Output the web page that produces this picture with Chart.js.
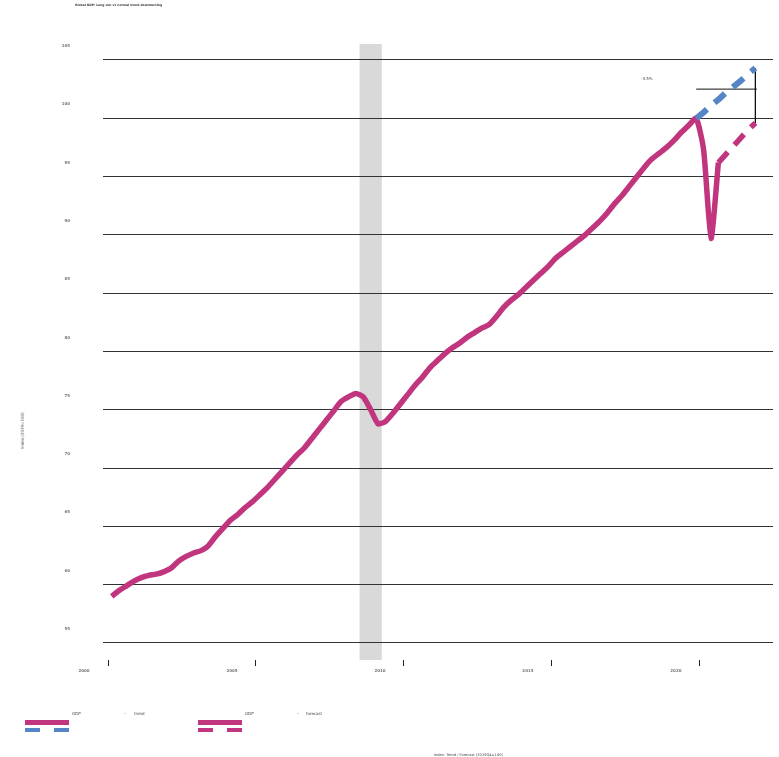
<!DOCTYPE html>
<html>
<head>
<meta charset="utf-8">
<script src="https://cdn.jsdelivr.net/npm/chart.js@4.4.1/dist/chart.umd.min.js"></script>
<style>
  body { margin: 0; background: #fff; }
  #wrap { position: relative; width: 779px; height: 757px; }
  .t { position: absolute; font-family: 'DejaVu Sans', sans-serif; font-size: 4px; color: #444; white-space: nowrap; }
  .sw { position: absolute; }
</style>
</head>
<body>
<div id="wrap">
  <canvas id="chart" width="779" height="757"></canvas>
  <div class="t" style="left:75px;top:3px;font-size:3px;font-weight:bold;color:#333;">Global GDP: Long-run vs normal trend downturning</div>
  <div class="t" style="left:4px;top:428px;transform:rotate(-90deg);transform-origin:center;">Index (2019=100)</div>
  <div class="t" style="left:641px;top:76px;">-4.5%</div>

  <!-- legende -->
  <div class="sw" style="left:25px;top:720px;width:44px;height:5px;background:#C0357E"></div>
  <div class="sw" style="left:25px;top:728px;width:15px;height:4px;background:#5585C5"></div>
  <div class="sw" style="left:54px;top:728px;width:15px;height:4px;background:#5585C5"></div>
  <div class="t" style="left:72px;top:711px;">GDP</div>
  <div class="t" style="left:124px;top:711px;">–</div>
  <div class="t" style="left:134px;top:711px;">trend</div>

  <div class="sw" style="left:198px;top:720px;width:44px;height:5px;background:#C0357E"></div>
  <div class="sw" style="left:198px;top:728px;width:15px;height:4px;background:#C0357E"></div>
  <div class="sw" style="left:227px;top:728px;width:15px;height:4px;background:#C0357E"></div>
  <div class="t" style="left:245px;top:711px;">GDP</div>
  <div class="t" style="left:297px;top:711px;">–</div>
  <div class="t" style="left:306px;top:711px;">forecast</div>

  <div class="t" style="left:434px;top:753px;font-size:3.6px;">Index: Trend / Forecast (2019Q4=100)</div>
</div>

<script>
// --- donnees ---
const quarters = [];
for (let y = 2000; y <= 2021; y++) for (let q = 1; q <= 4; q++) quarters.push(y + 'Q' + q);

// PIB observe, 2000Q1 -> 2020Q3
const gdpActual = [
  59.0, 59.5, 59.9, 60.3,
  60.6, 60.8, 60.9, 61.1,
  61.4, 62.0, 62.4, 62.7,
  62.9, 63.3, 64.1, 64.8,
  65.5, 66.0, 66.6, 67.1,
  67.7, 68.3, 69.0, 69.7,
  70.4, 71.1, 71.7, 72.5,
  73.3, 74.1, 74.9, 75.7,
  76.1, 76.4, 76.1, 75.0,
  73.8, 74.0, 74.7, 75.5,
  76.3, 77.1, 77.8, 78.6,
  79.2, 79.8, 80.3, 80.7,
  81.2, 81.6, 82.0, 82.3,
  83.0, 83.8, 84.4, 84.9,
  85.5, 86.1, 86.7, 87.3,
  88.0, 88.5, 89.0, 89.5,
  90.0, 90.6, 91.2, 91.9,
  92.7, 93.4, 94.2, 95.0,
  95.8, 96.5, 97.0, 97.5,
  98.1, 98.8, 99.4, 100.0,
  97.3, 89.7, 96.2
];
// prevision, 2020Q3 -> 2021Q4
const forecastStart = '2020Q3';
const gdpForecast = [96.2, 96.9, 97.6, 98.3, 99.0, 99.6];
// tendance pre-crise, 2019Q4 -> 2021Q4
const trendStart = '2019Q4';
const gdpTrend = [100.0, 100.5, 101.1, 101.6, 102.2, 102.7, 103.2, 103.8, 104.3];

const recession = [2008.5, 2009.25];
const yTicks = [55, 60, 65, 70, 75, 80, 85, 90, 95, 100, 105];
const xTicks = [2000, 2005, 2010, 2015, 2020];
const gapLevel = 102.5;

// '2008Q2' -> 2008.375
function qToYear(label) {
  const y = parseInt(label.slice(0, 4));
  const q = parseInt(label.slice(5));
  return y + (q - 0.5) / 4;
}
function toPoints(start, values) {
  const i0 = quarters.indexOf(start);
  return values.map((v, i) => ({ x: qToYear(quarters[i0 + i]), y: v }));
}

const pink = '#C0357E';
const blue = '#5585C5';
const lastX = qToYear(quarters[quarters.length - 1]);

// Zone grise de la recession, dessinee sous la grille
const shadePlugin = {
  id: 'shade',
  beforeDraw(chart) {
    const { ctx, chartArea, scales } = chart;
    const x1 = scales.x.getPixelForValue(recession[0]);
    const x2 = scales.x.getPixelForValue(recession[1]);
    ctx.save();
    ctx.fillStyle = '#d9d9d9';
    ctx.fillRect(x1, chartArea.top, x2 - x1, chartArea.bottom - chartArea.top);
    ctx.restore();
  }
};

new Chart(document.getElementById('chart'), {
  type: 'line',
  data: {
    datasets: [
      {
        label: 'trend',
        data: toPoints(trendStart, gdpTrend),
        borderColor: blue, borderWidth: 6, borderDash: [14, 10],
        pointRadius: 0, tension: 0
      },
      {
        label: 'forecast',
        data: toPoints(forecastStart, gdpForecast),
        borderColor: pink, borderWidth: 5.5, borderDash: [14, 10],
        pointRadius: 0, tension: 0
      },
      {
        label: 'GDP',
        data: toPoints('2000Q1', gdpActual),
        borderColor: pink, borderWidth: 5.5,
        pointRadius: 0, tension: 0.2, borderJoinStyle: 'round'
      },
      {
        label: 'gap',
        data: [
          { x: qToYear(trendStart), y: gapLevel },
          { x: lastX + 0.05, y: gapLevel }
        ],
        borderColor: '#111', borderWidth: 1, pointRadius: 0
      },
      {
        label: 'bracket',
        data: [
          { x: lastX, y: gdpTrend[gdpTrend.length - 1] },
          { x: lastX, y: gdpForecast[gdpForecast.length - 1] }
        ],
        borderColor: '#111', borderWidth: 1, pointRadius: 0
      }
    ]
  },
  options: {
    responsive: false,
    devicePixelRatio: 1,
    animation: false,
    layout: { padding: { top: 44, right: 6, bottom: 0, left: 0 } },
    plugins: {
      legend: { display: false },
      title: { display: false },
      tooltip: { enabled: false }
    },
    scales: {
      x: {
        type: 'linear',
        min: 1999.83,
        max: 2022.47,
        afterFit(scale) { scale.height = 97; },
        afterBuildTicks(scale) { scale.ticks = xTicks.map(v => ({ value: v })); },
        border: { display: false },
        grid: { drawOnChartArea: false, tickLength: 6, color: '#222', lineWidth: 1 },
        ticks: {
          font: { family: 'DejaVu Sans', size: 4, weight: 'bold' },
          color: '#777',
          padding: 3,
          labelOffset: -24,
          maxRotation: 0,
          callback: v => String(v)
        }
      },
      y: {
        min: 53.54,
        max: 106.37,
        afterFit(scale) { scale.width = 103; },
        afterBuildTicks(scale) { scale.ticks = yTicks.map(v => ({ value: v })); },
        border: { display: false },
        grid: { color: '#333', lineWidth: 1, tickLength: 0 },
        ticks: {
          font: { family: 'DejaVu Sans', size: 4, weight: 'bold' },
          color: '#777',
          padding: 33,
          labelOffset: -14,
          callback: v => String(v)
        }
      }
    }
  },
  plugins: [shadePlugin]
});
</script>
</body>
</html>
